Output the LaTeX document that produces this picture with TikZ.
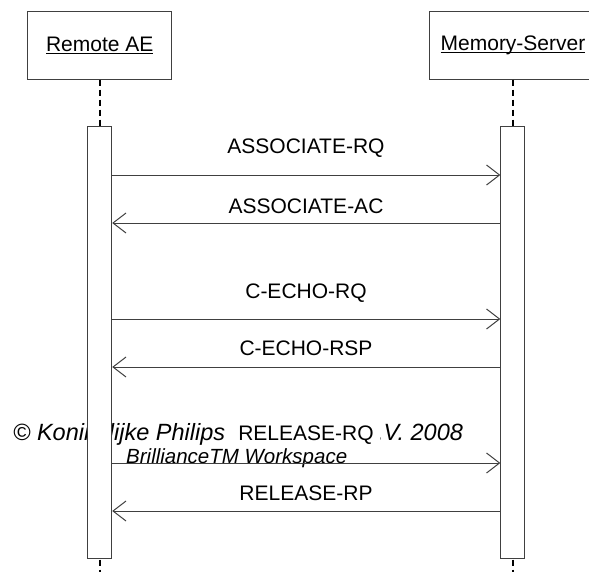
\documentclass[tikz,border=0pt]{standalone}
\usepackage{fontspec}
\setmainfont{Liberation Sans}
\usepackage{tikz}
\usetikzlibrary{arrows.meta,backgrounds,calc}

\newcommand{\objname}[1]{\setbox0\hbox{#1}\rlap{\rule[-2.6pt]{\wd0}{1.1pt}}\box0}

\tikzset{
  objbox/.style={draw=black!75, line width=1pt, fill=white, minimum height=67.3pt,
    font=\fontsize{21}{25}\selectfont},
  actbox/.style={draw=black!75, line width=1pt, fill=white, minimum width=24pt,
    minimum height=431.3pt, inner sep=0pt},
  lifeline/.style={black, line width=1.7pt, dash pattern=on 6pt off 4pt},
  msg/.style={black!75, line width=1pt, -{Straight Barb[length=13pt,width=20pt]}},
  msglabel/.style={fill=white, anchor=base, inner xsep=6.5pt, font=\fontsize{21}{25}\selectfont},
  wmark/.style={anchor=base west, inner sep=0pt, font=\itshape\fontsize{23.5}{27}\selectfont},
}

\begin{document}
\begin{tikzpicture}[x=1pt,y=-1pt]
\useasboundingbox (0,0) rectangle (589,571);
% objects
\node[objbox, minimum width=144pt] (ae) at (99.7,45.35) {\objname{Remote AE}};
\node[objbox, minimum width=168pt] (ms) at (513,45.35) {\objname{Memory-Server}};
\coordinate (aeEnd) at (99.7,575);
\coordinate (msEnd) at (513,575);
% lifelines
\draw[lifeline] (ae.south) -- (aeEnd);
\draw[lifeline] (ms.south) -- (msEnd);
% watermark
\node[wmark] (wm1) at (13,440) {© Koninklijke Philips};
\node[wmark] (wm2) at (360,440) {N.V. 2008};
\node[wmark, font=\itshape\fontsize{20.5}{24}\selectfont] (wm3) at (126,463) {BrillianceTM Workspace};
% activations
\node[actbox] (actA) at (99.7,342.35) {};
\node[actbox] (actB) at (512.85,342.35) {};
% messages
\draw[msg] (actA.east |- 0,175) -- (actB.west |- 0,175);
\draw[msg] (actB.west |- 0,223) -- (actA.east |- 0,223);
\draw[msg] (actA.east |- 0,319) -- (actB.west |- 0,319);
\draw[msg] (actB.west |- 0,367) -- (actA.east |- 0,367);
\draw[msg] (actA.east |- 0,463) -- (actB.west |- 0,463);
\draw[msg] (actB.west |- 0,511) -- (actA.east |- 0,511);
\node[msglabel] (m1) at (306,153) {ASSOCIATE-RQ};
\node[msglabel] (m2) at (306,213) {ASSOCIATE-AC};
\node[msglabel] (m3) at (306,298) {C-ECHO-RQ};
\node[msglabel] (m4) at (306,355) {C-ECHO-RSP};
\node[msglabel] (m5) at (306,440) {RELEASE-RQ};
\node[msglabel] (m6) at (306,500) {RELEASE-RP};
\end{tikzpicture}
\end{document}
